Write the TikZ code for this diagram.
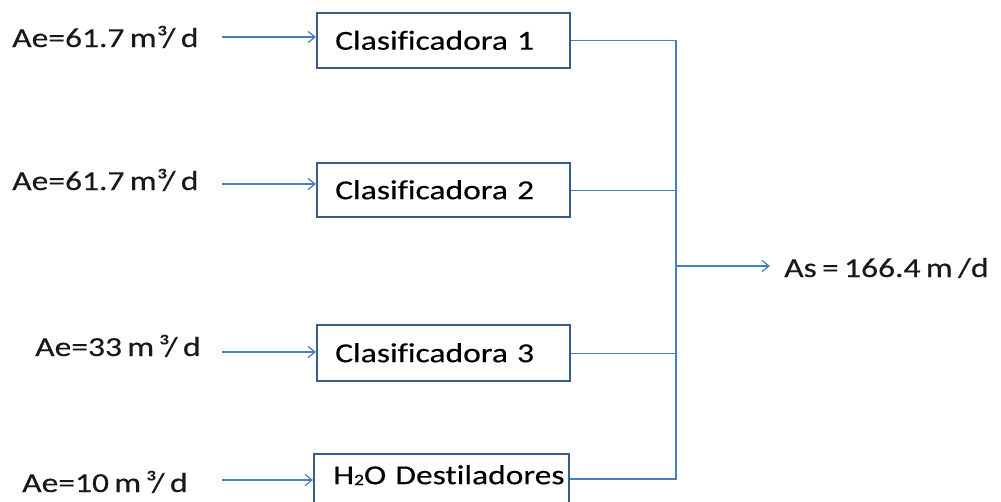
\documentclass[tikz,border=0pt]{standalone}
\usepackage{fontspec}
\setmainfont{Carlito}[FakeStretch=1.22, WordSpace=0.7, FakeBold=0.3, Ligatures=NoCommon]
\usetikzlibrary{arrows.meta}
\definecolor{boxline}{HTML}{385D8A}
\definecolor{flowline}{HTML}{4A7EBB}
\begin{document}
\begin{tikzpicture}[x=1pt,y=-1pt,
  font=\fontsize{27.5}{30}\selectfont,
  unit/.style={draw=boxline, line width=2.4pt, anchor=north west,
    minimum width=253pt, text width=217pt, align=left, inner xsep=18pt,
    inner ysep=0pt, text height=18pt, text depth=0pt},
  flow/.style={draw=flowline, line width=1.4pt},
  feed/.style={flow, -{Straight Barb[length=7pt,width=11pt,line width=1.2pt]}},
  rate/.style={anchor=base west, inner sep=0pt, text=black!90}]
\clip (0,0) rectangle (1001,501);

% process units
\node[unit, minimum height=55pt] (c1) at (316,12) {Clasificadora 1};
\node[unit, minimum height=54pt] (c2) at (316,162) {Clasificadora 2};
\node[unit, minimum height=56pt] (c3) at (316,324) {Clasificadora 3};
\node[unit, minimum width=255pt, inner ysep=12pt, text depth=40pt] (c4) at (313,453)
  {\mbox{H\raisebox{-1pt}{\fontsize{16}{16}\selectfont 2}O Destiladores}};

% inflow rates
\node[rate] (a1) at (12,47) {Ae=61.7 m³/ d};
\node[rate] (a2) at (12,190) {Ae=61.7 m³/ d};
\node[rate] (a3) at (35,356) {Ae=33 m\,³/ d};
\node[rate] (a4) at (22,492) {Ae=10 m\,³/ d};

% outflow rate
\node[rate] (out) at (784,277) {As = 166.4 m /d};

% feed arrows
\coordinate (s1) at (222,37);
\coordinate (s2) at (222,184);
\coordinate (s3) at (222,352);
\coordinate (s4) at (222,480);
\draw[feed] (s1) -- (s1 -| c1.west);
\draw[feed] (s2) -- (s2 -| c2.west);
\draw[feed] (s3) -- (s3 -| c3.west);
\draw[feed] (s4) -- (s4 -| c4.west);

% collecting line
\coordinate (c4tap) at ([yshift=-26pt]c4.north east);
\coordinate (bus) at (676,479);
\coordinate (tap) at (676,266);
\draw[flow] (c1.east) -| (bus) -- (c4tap);
\draw[flow] (c2.east) -- (c2.east -| bus);
\draw[flow] (c3.east) -- (c3.east -| bus);
\draw[feed, shorten >=14pt] (tap) -- (tap -| out.west);
\end{tikzpicture}
\end{document}
